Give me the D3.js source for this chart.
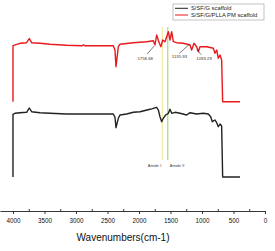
<!DOCTYPE html>
<html>
<head>
<meta charset="utf-8">
<script src="https://cdn.jsdelivr.net/npm/d3@7"></script>
<style>
  body { margin: 0; background: #fff; }
  text { font-family: "Liberation Sans", Arial, sans-serif; }
</style>
</head>
<body>
<div id="chart"></div>
<script>
// FTIR spectra, wavenumber (cm-1) vs. transmittance (arbitrary units)
const wnRed = [4000, 4000, 3889, 3783, 3741, 3704, 3571, 3413, 3148, 2900, 2880, 2860, 2408, 2381, 2365, 2328, 2302, 2090, 1878, 1772, 1746, 1720, 1677, 1651, 1624, 1587, 1561, 1534, 1508, 1481, 1455, 1402, 1296, 1190, 1164, 1127, 1085, 1058, 1032, 926, 820, 794, 767, 741, 714, 688, 672, 397];
const tRed = [78.3, 134.3, 136.7, 137.3, 141.5, 137.3, 136.7, 135.7, 134.7, 134.3, 135.2, 134.3, 134.3, 130, 113.3, 133.3, 135.7, 137.3, 138.3, 139.3, 135, 145, 136.7, 133.3, 140, 138.3, 143.3, 148.3, 140, 148.3, 138.3, 137.3, 136.7, 135, 130, 136.7, 133.3, 128.3, 133.3, 133.3, 131.7, 126.7, 130, 121.7, 125, 120, 78.3, 78.3];

const wnBlack = [4000, 4000, 3968, 3889, 3783, 3741, 3704, 3571, 3413, 3148, 2408, 2381, 2365, 2328, 2302, 2196, 2090, 1984, 1825, 1720, 1693, 1667, 1640, 1614, 1577, 1534, 1508, 1481, 1428, 1349, 1243, 1190, 1085, 979, 899, 862, 836, 794, 767, 741, 714, 688, 672, 397];
const tBlack = [3, 65.7, 66.7, 67.3, 67.7, 72, 68.3, 67.3, 66.7, 66, 66, 62.7, 52.3, 61.7, 65, 66, 67.7, 68.3, 70.7, 72.7, 70, 63.3, 58.3, 61.7, 65, 66.7, 70.7, 66.7, 67.7, 66.7, 65, 67.3, 66, 66.7, 66, 63.3, 58.3, 60, 57.3, 53.3, 56, 54, 3, 3];

const seriesNames = ["S/SF/G scaffold", "S/SF/G/PLLA PM scaffold"];
const seriesColors = ["#222222", "#e8191c"];

// amide bands
const bandWn = [1630, 1544];
const bandNames = ["Amide I", "Amide II"];
const bandColors = ["#f4efa4", "#b9dc9e"];

// labelled peaks on the red spectrum
const peakWn = [1758.68, 1135.93, 1093.29];
const peakLabels = ["1758.68", "1135.93", "1093.29"];

const majorTicks = [4000, 3500, 3000, 2500, 2000, 1500, 1000, 500, 0];
const minorTicks = [3750, 3250, 2750, 2250, 1750, 1250, 750, 250];

const width = 275, height = 251;
const axisY = 211;

const svg = d3.select("#chart").append("svg")
  .attr("width", width)
  .attr("height", height);

const x = d3.scaleLinear().domain([4206, 0]).range([0, 265]);
const y = d3.scaleLinear().domain([0, 160]).range([180, 20]);

// amide band lines
svg.append("g")
  .selectAll("line")
  .data(bandWn)
  .join("line")
  .attr("x1", d => x(d)).attr("x2", d => x(d))
  .attr("y1", y(153)).attr("y2", y(20))
  .attr("stroke", (d, i) => bandColors[i])
  .attr("stroke-width", 1.4);

svg.append("g")
  .selectAll("text")
  .data(bandWn)
  .join("text")
  .attr("x", (d, i) => x(d) + (i === 0 ? -1 : 2))
  .attr("y", y(13.5))
  .attr("text-anchor", (d, i) => i === 0 ? "end" : "start")
  .attr("font-size", "4px")
  .attr("fill", "#444")
  .text((d, i) => bandNames[i]);

const line = d3.line().x(d => x(d[0])).y(d => y(d[1]));

const series = [d3.zip(wnBlack, tBlack), d3.zip(wnRed, tRed)];

svg.append("g")
  .selectAll("path")
  .data(series)
  .join("path")
  .attr("d", line)
  .attr("fill", "none")
  .attr("stroke", (d, i) => seriesColors[i])
  .attr("stroke-width", 1.4)
  .attr("stroke-linejoin", "round");

// peak annotations
const peakRed = peakWn.map(w => {
  // find nearby value from the red spectrum
  let best = 0;
  wnRed.forEach((v, i) => { if (Math.abs(v - w) < Math.abs(wnRed[best] - w)) best = i; });
  return tRed[best];
});

const ann = svg.append("g");
// 1758.68 : label below-left
ann.append("line")
  .attr("x1", x(peakWn[0]) - 7).attr("y1", y(peakRed[0]) + 9)
  .attr("x2", x(peakWn[0])).attr("y2", y(peakRed[0]) + 1)
  .attr("stroke", "#222").attr("stroke-width", 0.6);
ann.append("text")
  .attr("x", x(peakWn[0]) - 9).attr("y", y(peakRed[0]) + 15)
  .attr("text-anchor", "middle").attr("font-size", "4.3px").attr("fill", "#333")
  .text(peakLabels[0]);
// 1135.93 : label below-left
ann.append("line")
  .attr("x1", x(peakWn[1]) - 14).attr("y1", y(peakRed[1]) + 10)
  .attr("x2", x(peakWn[1]) - 4).attr("y2", y(peakRed[1]) + 1)
  .attr("stroke", "#222").attr("stroke-width", 0.6);
ann.append("text")
  .attr("x", x(peakWn[1]) - 14).attr("y", y(peakRed[1]) + 15)
  .attr("text-anchor", "middle").attr("font-size", "4.3px").attr("fill", "#333")
  .text(peakLabels[1]);
// 1093.29 : label below-right
ann.append("line")
  .attr("x1", x(peakWn[2]) + 1).attr("y1", y(peakRed[2]) + 3)
  .attr("x2", x(peakWn[2]) + 5).attr("y2", y(peakRed[2]) + 8)
  .attr("stroke", "#222").attr("stroke-width", 0.6);
ann.append("text")
  .attr("x", x(peakWn[2]) + 8).attr("y", y(peakRed[2]) + 13)
  .attr("text-anchor", "middle").attr("font-size", "4.3px").attr("fill", "#333")
  .text(peakLabels[2]);

// x axis
const gx = svg.append("g")
  .attr("transform", `translate(0,${axisY})`)
  .call(d3.axisBottom(x).tickValues(majorTicks).tickSize(3).tickSizeOuter(0).tickPadding(5).tickFormat(d3.format("d")));
gx.select(".domain").attr("stroke", "#222").attr("stroke-width", 0.9);
gx.selectAll(".tick line").attr("stroke", "#222").attr("stroke-width", 0.9);
gx.selectAll("text").attr("font-size", "6.3px").attr("fill", "#111")
  .style("font-family", "'Liberation Sans', Arial, sans-serif");

const gm = svg.append("g")
  .attr("transform", `translate(0,${axisY})`)
  .call(d3.axisTop(x).tickValues(minorTicks).tickSize(2).tickFormat(""));
gm.select(".domain").remove();
gm.selectAll(".tick line").attr("stroke", "#222").attr("stroke-width", 0.9);

svg.append("text")
  .attr("x", 123)
  .attr("y", 241)
  .attr("text-anchor", "middle")
  .attr("font-size", "10px")
  .attr("fill", "#111")
  .text("Wavenumbers(cm-1)");

// legend
const legend = svg.append("g").attr("transform", "translate(173,4)");
legend.append("rect")
  .attr("width", 91).attr("height", 16)
  .attr("fill", "#fff").attr("stroke", "#999").attr("stroke-width", 0.6);
const items = legend.selectAll("g.item")
  .data(seriesNames)
  .join("g")
  .attr("class", "item")
  .attr("transform", (d, i) => `translate(0,${4.3 + i * 6.7})`);
items.append("line")
  .attr("x1", 2).attr("x2", 15)
  .attr("stroke", (d, i) => seriesColors[i])
  .attr("stroke-width", 1);
items.append("text")
  .attr("x", 18).attr("y", 2)
  .attr("font-size", "5.8px")
  .attr("fill", "#222")
  .text(d => d);
</script>
</body>
</html>
